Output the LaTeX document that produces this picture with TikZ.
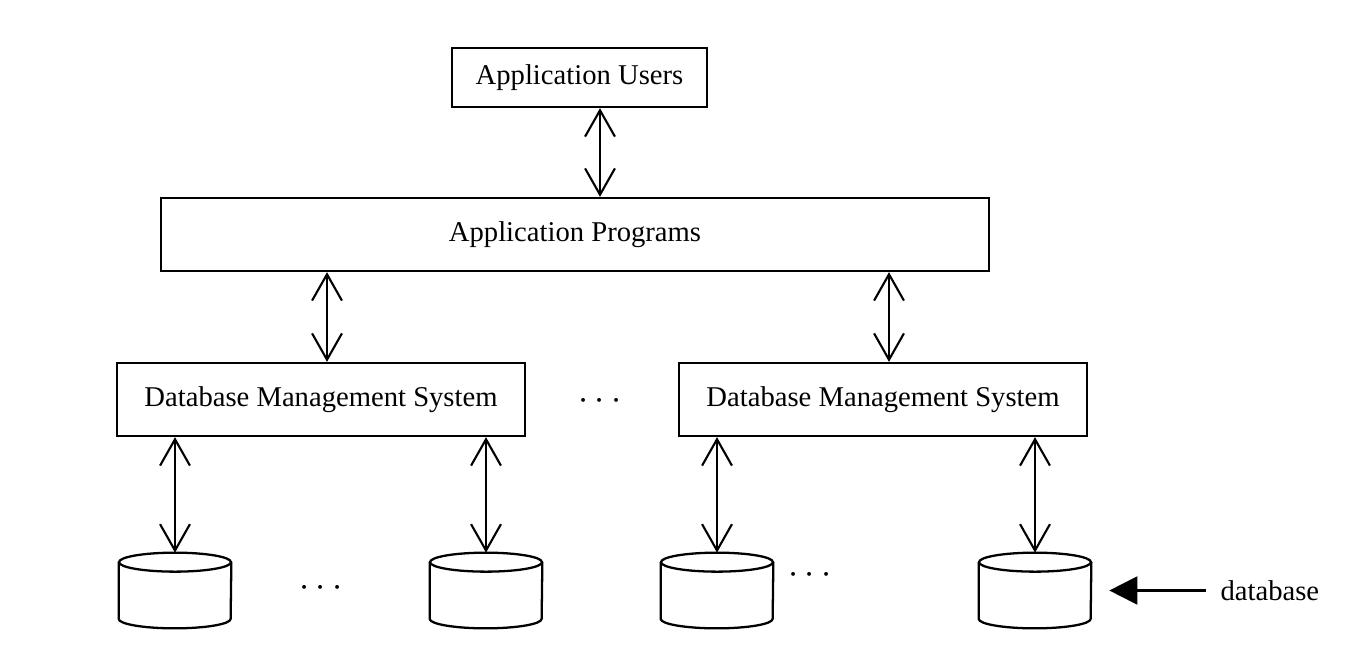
\documentclass[tikz,border=0pt]{standalone}
\usepackage{fontspec}
\setmainfont{Liberation Serif}
\usetikzlibrary{arrows.meta,positioning}
\tikzset{
	layer/.style={draw, line width=1.3pt, inner sep=0pt},
	dbstore/.style={minimum width=2.24cm, minimum height=1.5cm, inner sep=0pt},
	link/.style={<->, line width=1.2pt, >={Straight Barb[length=15pt,width=17pt]}},
	gap/.style={font=\fontsize{20}{24}\selectfont}
}

\begin{document}
\begin{tikzpicture}[x=0.02cm, y=0.02cm, font=\fontsize{16.3}{19.5}\selectfont]
		\useasboundingbox (0,0) rectangle (1351,-665);

		\node[layer, minimum width=5.1cm, minimum height=1.18cm] (users) at (579.5,-77.5) {Application Users};
		\node[layer, minimum width=16.56cm, minimum height=1.46cm] (programs) at (575,-234.5) {Application Programs};
		\node[layer, minimum width=8.16cm, minimum height=1.46cm] (dbms1) at (321,-399.5) {Database Management System};
		\node[layer, minimum width=8.16cm, minimum height=1.46cm] (dbms2) at (883,-399.5) {Database Management System};

		\node[gap] (dotsmid) at (600,-401) {$\cdots$};
		\node[gap] (dotsleft) at (321,-588) {$\cdots$};
		\node[gap] (dotsright) at (810,-575) {$\cdots$};

		% the four databases
		\foreach \x [count=\i] in {175,486,717,1035} {
			\node[dbstore] (db\i) at (\x,-590.5) {};
			\draw[line width=1.3pt] ([yshift=-0.19cm]db\i.north west) -- ([yshift=0.19cm]db\i.south west)
				arc[start angle=180, end angle=360, x radius=1.12cm, y radius=0.19cm]
				-- ([yshift=-0.19cm]db\i.north east);
			\draw[line width=1.3pt] ([yshift=-0.19cm]db\i.north) ellipse [x radius=1.12cm, y radius=0.19cm];
		}

		\draw[link] ([xshift=0.41cm]users.south) -- ([xshift=0.41cm]users.south |- programs.north);
		\draw[link] ([xshift=0.12cm]dbms1.north |- programs.south) -- ([xshift=0.12cm]dbms1.north);
		\draw[link] ([xshift=0.12cm]dbms2.north |- programs.south) -- ([xshift=0.12cm]dbms2.north);

		\draw[link] (db1.north |- dbms1.south) -- (db1.north);
		\draw[link] (db2.north |- dbms1.south) -- (db2.north);
		\draw[link] (db3.north |- dbms2.south) -- (db3.north);
		\draw[link] (db4.north |- dbms2.south) -- (db4.north);

		\node[right=2.46cm of db4.east, anchor=west] (dblabel) {database};
		\draw[-{Triangle[length=16pt,width=16pt]}, line width=1.2pt, shorten <=5pt] (dblabel.west) -- ([xshift=0.36cm]db4.east);
\end{tikzpicture}
\end{document}
